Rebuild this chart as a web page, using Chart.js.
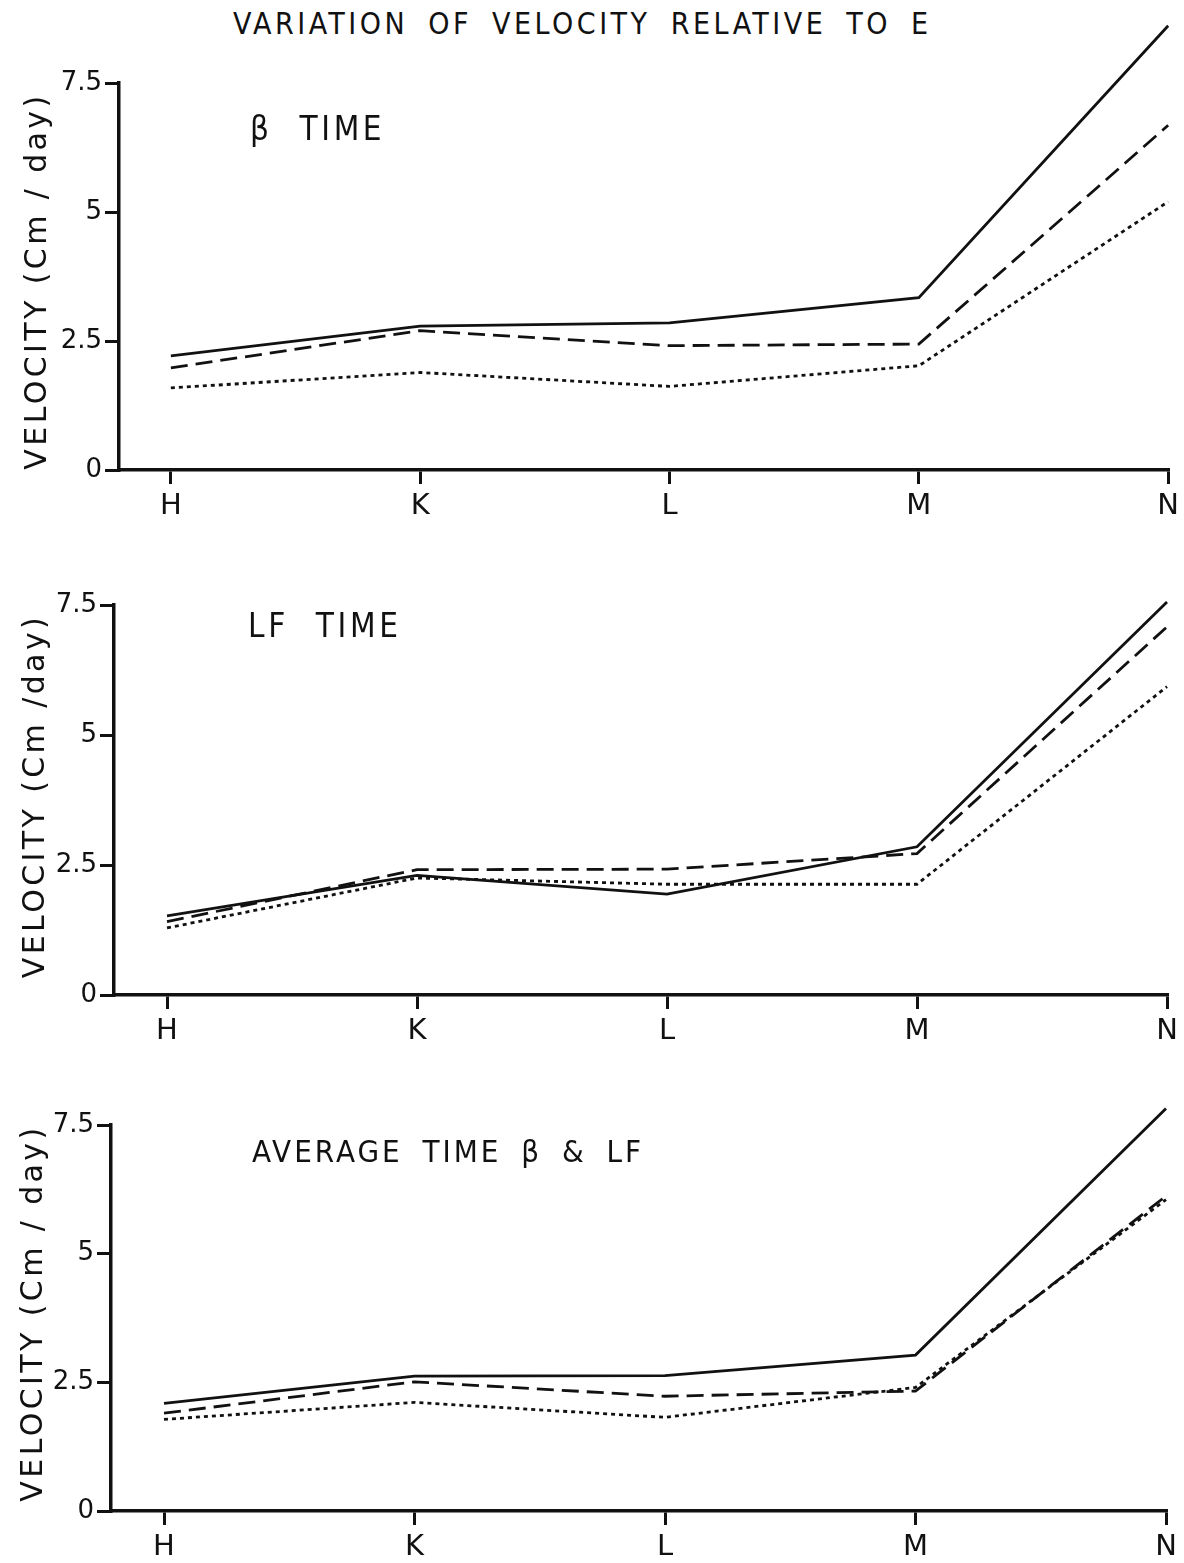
<!DOCTYPE html>
<html>
<head>
<meta charset="utf-8">
<script src="https://cdn.jsdelivr.net/npm/chart.js@4/dist/chart.umd.min.js"></script>
<style>
  body { margin: 0; background: #fff; }
  #page { position: relative; width: 1184px; height: 1563px; overflow: hidden; background: #fff; }
  canvas { position: absolute; left: 0; }
  .txt { position: absolute; color: #111; white-space: nowrap; font-family: "DejaVu Sans Condensed", "DejaVu Sans", sans-serif; }
  .title { left: 233px; top: 6px; font-size: 30px; letter-spacing: 3.5px; word-spacing: 8px; }
  .note { font-size: 31px; letter-spacing: 3px; word-spacing: 8px; }
  .note.big { font-size: 33px; letter-spacing: 3.6px; word-spacing: 14px; }
  .ytitle { font-family: "DejaVu Sans", sans-serif; font-size: 30px; letter-spacing: 3.4px;
            transform: translate(-50%, -50%) rotate(-90deg); }
</style>
</head>
<body>
<div id="page">
  <div class="txt title">VARIATION OF VELOCITY RELATIVE TO E</div>

  <canvas id="chart-beta" width="1184" height="540" style="top:0px"></canvas>
  <canvas id="chart-lf" width="1184" height="520" style="top:540px"></canvas>
  <canvas id="chart-avg" width="1184" height="503" style="top:1060px"></canvas>

  <div class="txt note big" style="left:250px; top:109px">β TIME</div>
  <div class="txt note big" style="left:248px; top:606px">LF TIME</div>
  <div class="txt note" style="left:252px; top:1133px">AVERAGE TIME β &amp; LF</div>

  <div class="txt ytitle" style="left:35px; top:281px">VELOCITY (Cm / day)</div>
  <div class="txt ytitle" style="left:33px; top:796px">VELOCITY (Cm /day)</div>
  <div class="txt ytitle" style="left:31px; top:1313px">VELOCITY (Cm / day)</div>
</div>

<script>
// Data (velocity in cm/day)
const categories = ["H", "K", "L", "M", "N"];
const yTicks = [0, 2.5, 5, 7.5];

const betaSolid = [2.21, 2.79, 2.85, 3.34, 8.61];
const betaDashed = [1.98, 2.70, 2.41, 2.44, 6.68];
const betaDotted = [1.59, 1.89, 1.62, 2.02, 5.20];

const lfSolid = [1.52, 2.30, 1.94, 2.85, 7.56];
const lfDashed = [1.41, 2.41, 2.42, 2.72, 7.08];
const lfDotted = [1.29, 2.25, 2.13, 2.13, 5.93];

const avgSolid = [2.09, 2.62, 2.63, 3.03, 7.82];
const avgDashed = [1.90, 2.51, 2.23, 2.33, 6.12];
const avgDotted = [1.78, 2.11, 1.82, 2.40, 6.05];

const INK = "#111";

function toPoints(values) {
  return values.map((v, i) => ({ x: i, y: v }));
}

function lineSet(values, dash) {
  return {
    data: toPoints(values),
    borderColor: INK,
    borderWidth: 2.8,
    borderDash: dash,
    pointRadius: 0,
    tension: 0,
    clip: false,
  };
}

// axisX: pixel of y axis, firstX/lastX: pixels of H and N, top/bottom: pixels of 7.5 and 0 in the canvas
function renderPanel(id, solid, dashed, dotted, box) {
  const ctx = document.getElementById(id).getContext("2d");
  const xMin = -(box.firstX - box.axisX) / ((box.lastX - box.firstX) / 4);

  new Chart(ctx, {
    type: "line",
    data: {
      datasets: [
        lineSet(solid, []),
        lineSet(dashed, [17, 8]),
        lineSet(dotted, [4, 4]),
      ],
    },
    options: {
      responsive: false,
      animation: false,
      events: [],
      layout: {
        padding: {
          left: 0,
          right: 1184 - box.lastX,
          top: box.top,
          bottom: box.height - box.bottom - 50,
        },
      },
      plugins: {
        legend: { display: false },
        tooltip: { enabled: false },
      },
      scales: {
        x: {
          type: "linear",
          min: xMin,
          max: categories.length - 1,
          afterFit: (scale) => { scale.height = 50; },
          afterBuildTicks: (scale) => {
            scale.ticks = categories.map((c, i) => ({ value: i }));
          },
          ticks: {
            includeBounds: false,
            color: INK,
            padding: 5,
            maxRotation: 0,
            font: { family: "DejaVu Sans", size: 29 },
            callback: (v) => categories[v],
          },
          grid: {
            drawOnChartArea: false,
            drawTicks: true,
            tickLength: 14,
            color: INK,
            lineWidth: 3,
          },
          border: { display: true, color: INK, width: 3.5 },
        },
        y: {
          min: 0,
          max: 7.5,
          afterFit: (scale) => { scale.width = box.axisX; },
          afterBuildTicks: (scale) => {
            scale.ticks = yTicks.map((v) => ({ value: v }));
          },
          ticks: {
            color: INK,
            padding: 3,
            font: { family: "DejaVu Sans", size: 26 },
            callback: (v) => String(v),
          },
          grid: {
            drawOnChartArea: false,
            drawTicks: true,
            tickLength: 14,
            color: INK,
            lineWidth: 3,
          },
          border: { display: true, color: INK, width: 3.5 },
        },
      },
    },
  });
}

renderPanel("chart-beta", betaSolid, betaDashed, betaDotted,
  { axisX: 119, firstX: 171, lastX: 1171, top: 83, bottom: 470, height: 540 });
renderPanel("chart-lf", lfSolid, lfDashed, lfDotted,
  { axisX: 114, firstX: 167, lastX: 1167, top: 65, bottom: 455, height: 520 });
renderPanel("chart-avg", avgSolid, avgDashed, avgDotted,
  { axisX: 111, firstX: 164, lastX: 1166, top: 65, bottom: 451, height: 503 });
</script>
</body>
</html>
